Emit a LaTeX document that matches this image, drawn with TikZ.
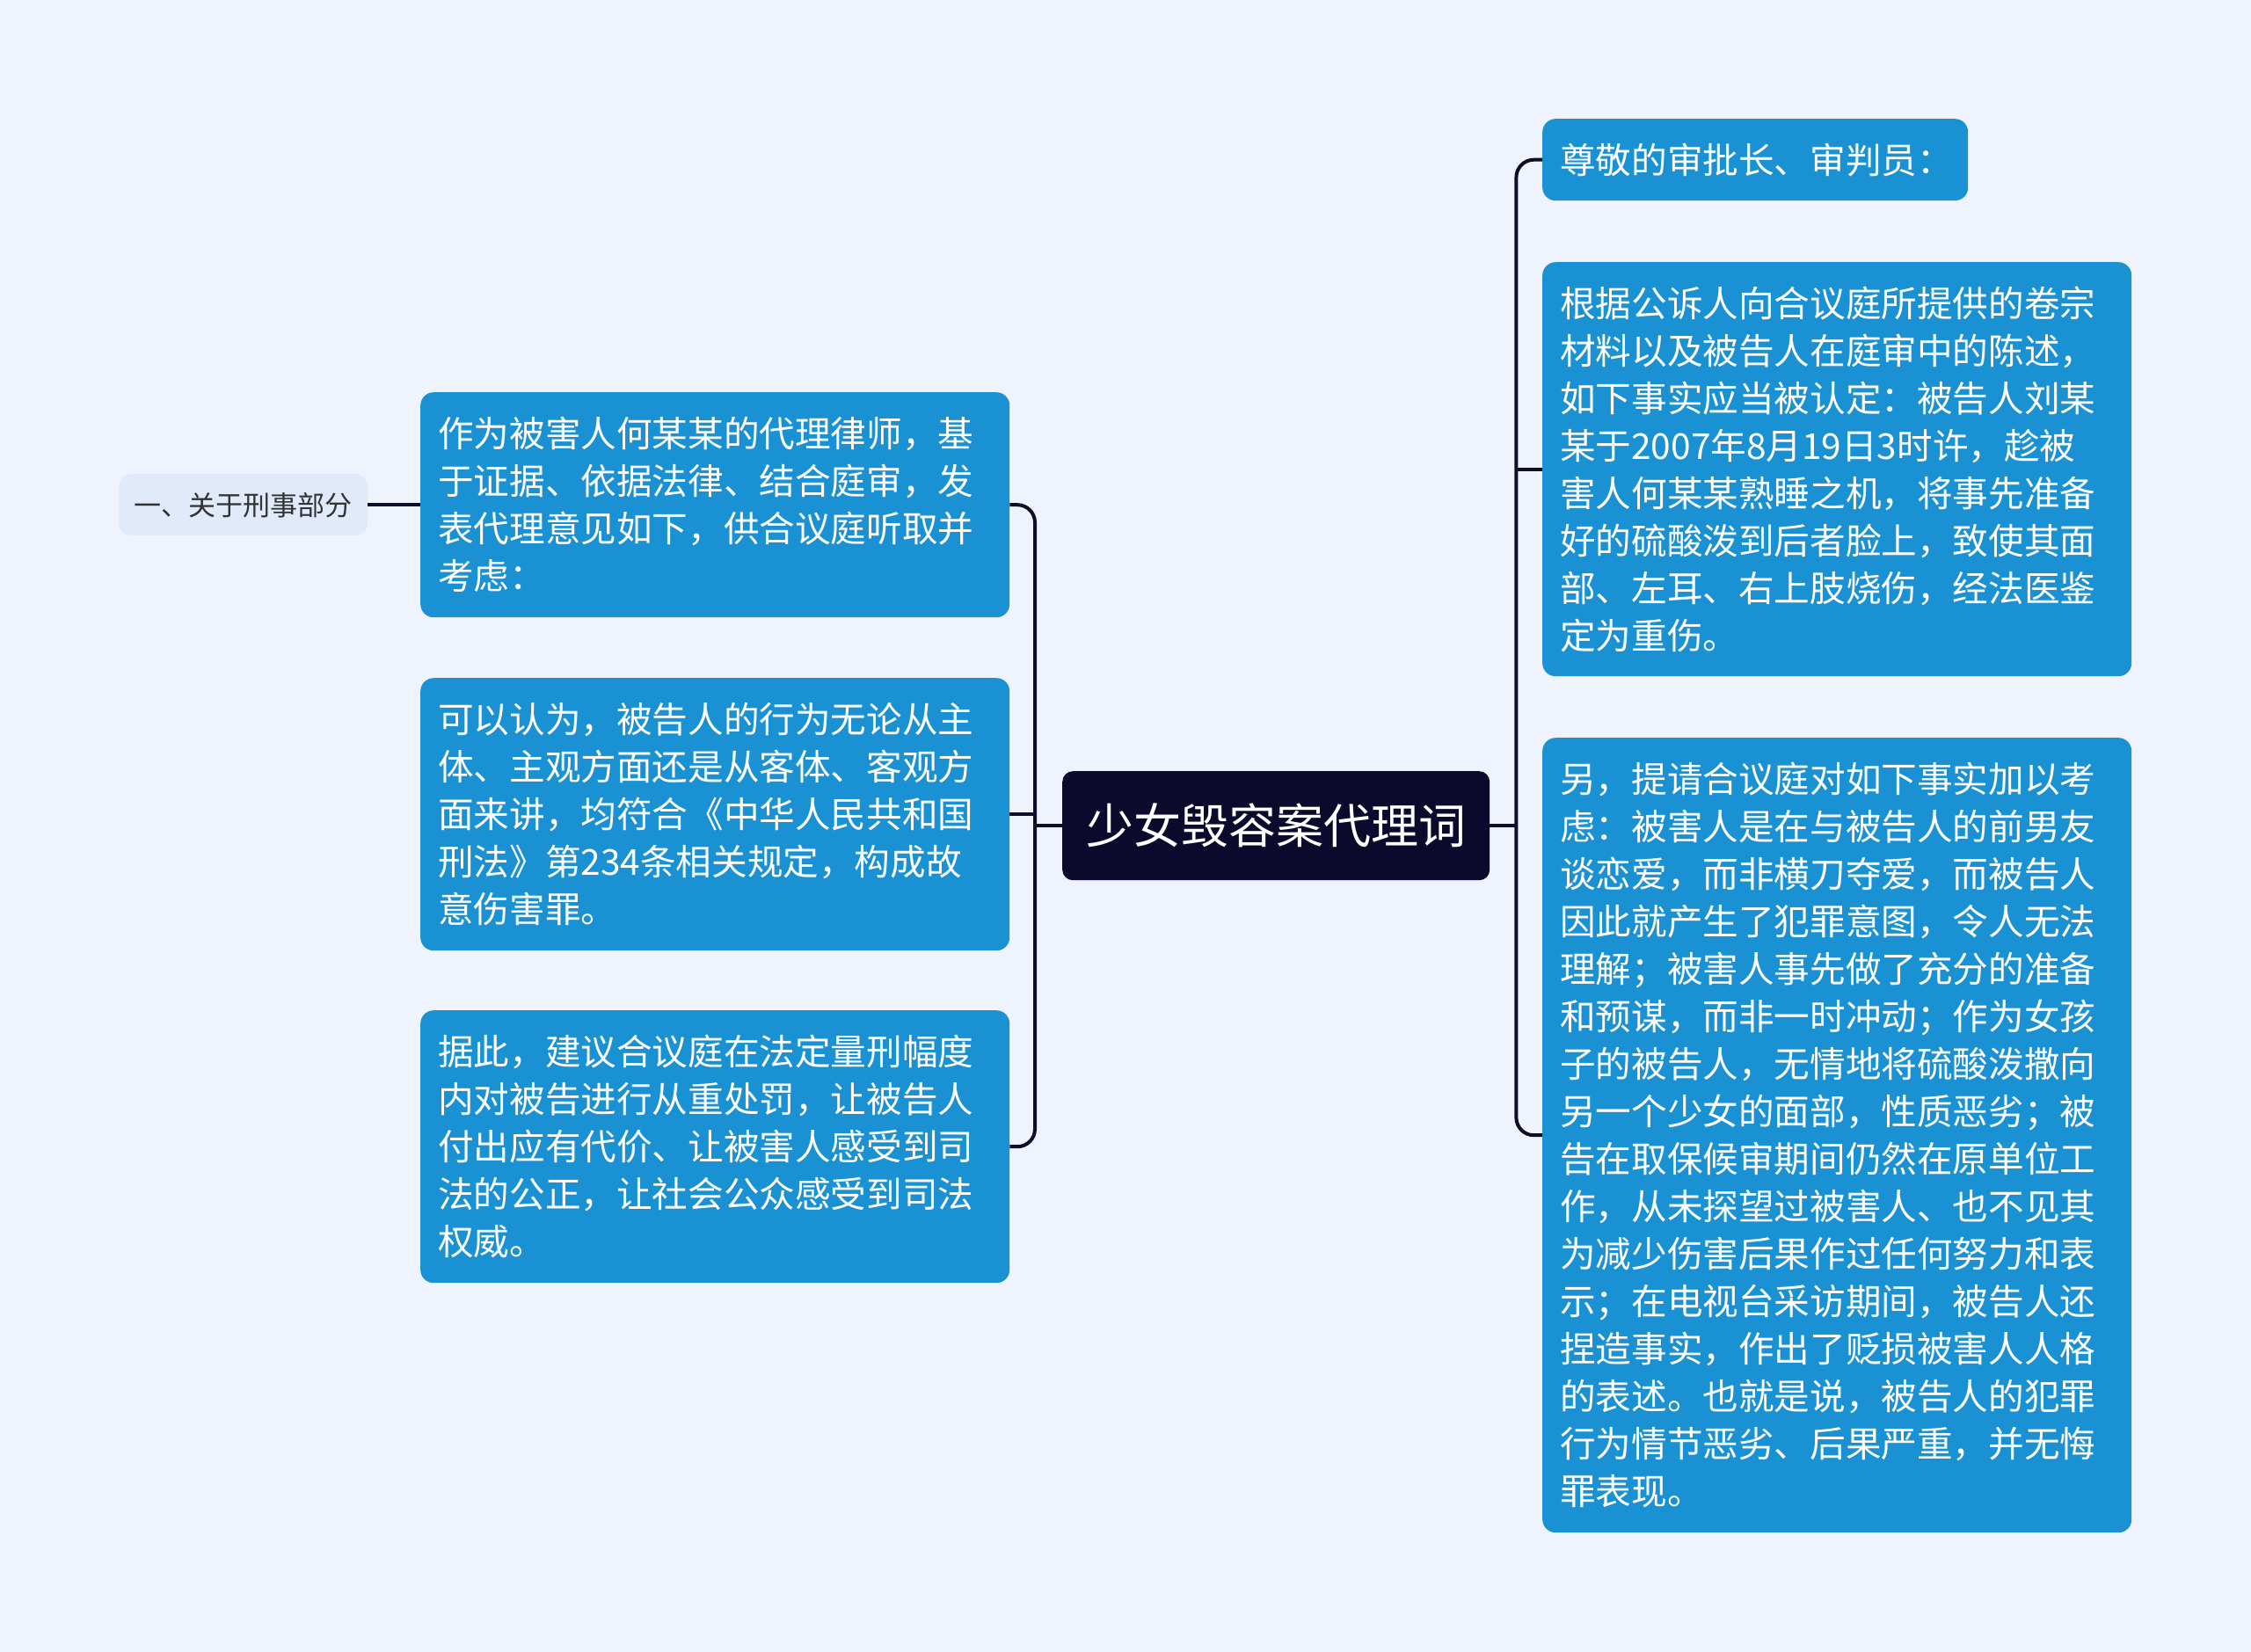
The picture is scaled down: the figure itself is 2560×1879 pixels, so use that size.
\documentclass[tikz,border=0pt]{standalone}
\usepackage{fontspec}
\setmainfont{Noto Sans CJK SC}
\usepackage{tikz}

\definecolor{pagebg}{HTML}{EEF3FD}
\definecolor{leafblue}{HTML}{1A91D3}
\definecolor{rootnavy}{HTML}{0B0A2D}
\definecolor{subfill}{HTML}{E0EAFA}
\definecolor{linkdark}{HTML}{0E0E28}

\begin{document}
\begin{tikzpicture}[x=1pt,y=1pt,yscale=-1,xscale=1,
  leaf/.style={fill=leafblue, rounded corners=15pt, text=white, align=left,
    anchor=north west, inner xsep=20pt, inner ysep=0pt, text width=630pt,
    font=\fontsize{40.6}{54}\selectfont},
  rootbox/.style={fill=rootnavy, rounded corners=12pt, text=white, anchor=north west,
    minimum width=486pt, minimum height=124pt, inner sep=0pt,
    font=\fontsize{54}{60}\selectfont},
  subbox/.style={fill=subfill, rounded corners=14pt, text=black!80, anchor=north west,
    minimum width=283pt, minimum height=70pt, inner sep=0pt,
    font=\fontsize{31}{36}\selectfont},
  link/.style={draw=linkdark, line width=4pt}]
%set diagram size and background
\useasboundingbox (0,0) rectangle (2560,1879);
\fill [pagebg] (0,0) rectangle (2560,1879);

% Root Node
\draw (1208,877) node [rootbox] (root) {少女毁容案代理词};

% Text Node
\draw (478,446) node [leaf, minimum height=256pt] (l1) {作为被害人何某某的代理律师，基\\于证据、依据法律、结合庭审，发\\表代理意见如下，供合议庭听取并\\考虑：};
% Text Node
\draw (478,771) node [leaf, minimum height=310pt] (l2) {可以认为，被告人的行为无论从主\\体、主观方面还是从客体、客观方\\面来讲，均符合《中华人民共和国\\刑法》第234条相关规定，构成故\\意伤害罪。};
% Text Node
\draw (478,1149) node [leaf, minimum height=310pt] (l3) {据此，建议合议庭在法定量刑幅度\\内对被告进行从重处罚，让被告人\\付出应有代价、让被害人感受到司\\法的公正，让社会公众感受到司法\\权威。};
% Text Node
\draw (135,539) node [subbox] (sub) {一、关于刑事部分};

% Text Node
\draw (1754,135) node [leaf, text width=444pt, minimum height=93pt] (r1) {尊敬的审批长、审判员：};
% Text Node
\draw (1754,298) node [leaf, minimum height=471pt] (r2) {根据公诉人向合议庭所提供的卷宗\\材料以及被告人在庭审中的陈述，\\如下事实应当被认定：被告人刘某\\某于2007年8月19日3时许，趁被\\害人何某某熟睡之机，将事先准备\\好的硫酸泼到后者脸上，致使其面\\部、左耳、右上肢烧伤，经法医鉴\\定为重伤。};
% Text Node
\draw (1754,839) node [leaf, minimum height=904pt] (r3) {另，提请合议庭对如下事实加以考\\虑：被害人是在与被告人的前男友\\谈恋爱，而非横刀夺爱，而被告人\\因此就产生了犯罪意图，令人无法\\理解；被害人事先做了充分的准备\\和预谋，而非一时冲动；作为女孩\\子的被告人，无情地将硫酸泼撒向\\另一个少女的面部，性质恶劣；被\\告在取保候审期间仍然在原单位工\\作，从未探望过被害人、也不见其\\为减少伤害后果作过任何努力和表\\示；在电视台采访期间，被告人还\\捏造事实，作出了贬损被害人人格\\的表述。也就是说，被告人的犯罪\\行为情节恶劣、后果严重，并无悔\\罪表现。};

%Straight Lines: left branch
\path (root.west) ++(-31,0) coordinate (lhub);
\draw [link] (root.west) -- (lhub);
\draw [link, rounded corners=20pt] (l1.east) -| (lhub) |- (l3.east);
\draw [link] (l2.east) -- (l2.east -| lhub);
\draw [link] (sub.east) -- (l1.west);

%Straight Lines: right branch
\path (root.east) ++(30,0) coordinate (rhub);
\draw [link] (root.east) -- (rhub);
\draw [link, rounded corners=20pt] (r1.west) -| (rhub) |- (r3.west);
\draw [link] (r2.west) -- (r2.west -| rhub);

\end{tikzpicture}
\end{document}
